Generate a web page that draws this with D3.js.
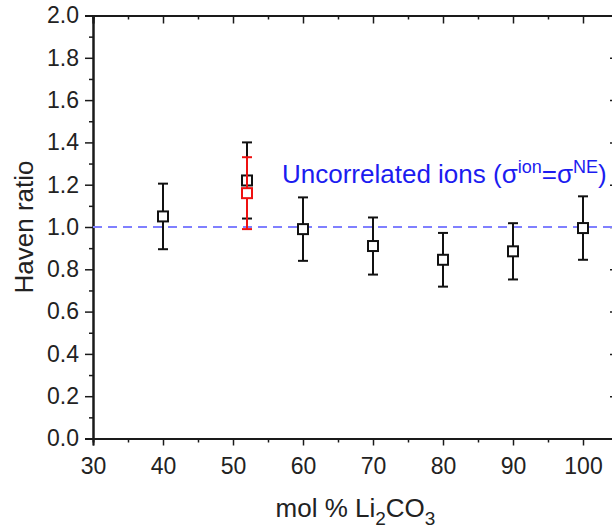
<!DOCTYPE html>
<html>
<head>
<meta charset="utf-8">
<script src="https://cdn.jsdelivr.net/npm/d3@7"></script>
<style>
  body { margin: 0; background: #fff; }
  svg { display: block; font-family: "Liberation Sans", Arial, sans-serif; }
</style>
</head>
<body>
<div id="chart"></div>
<script>
// data
var molLi2CO3 = [40, 52, 60, 70, 80, 90, 100];
var havenRatio = [1.05, 1.22, 0.99, 0.91, 0.845, 0.885, 0.995];
var havenErr = [0.155, 0.18, 0.15, 0.135, 0.127, 0.133, 0.15];

var redMol = [52];
var redHaven = [1.16];
var redErr = [0.17];

var xMajor = [30, 40, 50, 60, 70, 80, 90, 100];
var xMinor = [35, 45, 55, 65, 75, 85, 95, 105];
var yMajor = [0, 0.2, 0.4, 0.6, 0.8, 1.0, 1.2, 1.4, 1.6, 1.8, 2.0];
var yMinor = [0.1, 0.3, 0.5, 0.7, 0.9, 1.1, 1.3, 1.5, 1.7, 1.9];

var width = 612, height = 529;
var axis_color = "#1a1a1a";
var blue_line = "#8080ff";
var blue_text = "#1c1cf0";
var red = "#ee1111";

var svg = d3.select("#chart").append("svg")
  .attr("width", width)
  .attr("height", height);

var x = d3.scaleLinear().domain([30, 105]).range([93, 618]);
var y = d3.scaleLinear().domain([0, 2]).range([438.5, 15.5]);

function styleAxis(g) {
  g.select(".domain").attr("stroke", axis_color).attr("stroke-width", 2);
  g.selectAll(".tick line").attr("stroke", axis_color).attr("stroke-width", 1.5);
  g.selectAll(".tick text").attr("fill", "#222").style("font-size", "23px");
}

// left axis
svg.append("g").attr("transform", "translate(93,0)")
  .call(d3.axisLeft(y).tickValues(yMajor).tickSize(8).tickPadding(6).tickFormat(d3.format(".1f")))
  .call(styleAxis);
svg.append("g").attr("transform", "translate(93,0)")
  .call(d3.axisLeft(y).tickValues(yMinor).tickSize(4).tickFormat(""))
  .call(styleAxis);

// bottom axis
svg.append("g").attr("transform", "translate(0,438.5)")
  .call(d3.axisBottom(x).tickValues(xMajor).tickSize(7).tickPadding(12).tickFormat(d3.format("d")))
  .call(styleAxis);
svg.append("g").attr("transform", "translate(0,438.5)")
  .call(d3.axisBottom(x).tickValues(xMinor).tickSize(4).tickFormat(""))
  .call(styleAxis);

// top axis (ticks point inward)
svg.append("g").attr("transform", "translate(0,15.5)")
  .call(d3.axisTop(x).tickValues(xMajor).tickSize(-8).tickFormat(""))
  .call(styleAxis);
svg.append("g").attr("transform", "translate(0,15.5)")
  .call(d3.axisTop(x).tickValues(xMinor).tickSize(-4).tickFormat(""))
  .call(styleAxis);

// right axis (mostly off-canvas)
svg.append("g").attr("transform", "translate(618,0)")
  .call(d3.axisRight(y).tickValues(yMajor).tickSize(-8).tickFormat(""))
  .call(styleAxis);
svg.append("g").attr("transform", "translate(618,0)")
  .call(d3.axisRight(y).tickValues(yMinor).tickSize(-4).tickFormat(""))
  .call(styleAxis);

// reference line at 1.0
svg.append("line")
  .attr("x1", x(30)).attr("x2", x(105))
  .attr("y1", y(1)).attr("y2", y(1))
  .attr("stroke", blue_line)
  .attr("stroke-width", 2)
  .attr("stroke-dasharray", "9,6");

svg.append("text")
  .attr("x", 282).attr("y", 183)
  .attr("fill", blue_text)
  .style("font-size", "26px")
  .call(function(t) {
    t.append("tspan").text("Uncorrelated ions (\u03c3");
    t.append("tspan").attr("dy", -10).style("font-size", "18px").text("ion");
    t.append("tspan").attr("dy", 10).text("=\u03c3");
    t.append("tspan").attr("dy", -10).style("font-size", "18px").text("NE");
    t.append("tspan").attr("dy", 10).text(")");
  });

function drawSeries(xs, ys, es, col) {
  var g = svg.append("g");
  var pts = xs.map(function(d, i) { return {x: d, y: ys[i], e: es[i]}; });
  var cap = 5;
  var eb = g.selectAll(".eb").data(pts).enter().append("g")
    .attr("stroke", col).attr("stroke-width", 2).attr("fill", "none");
  eb.append("line")
    .attr("x1", function(d) { return x(d.x); }).attr("x2", function(d) { return x(d.x); })
    .attr("y1", function(d) { return y(d.y + d.e); }).attr("y2", function(d) { return y(d.y - d.e); });
  eb.append("line")
    .attr("x1", function(d) { return x(d.x) - cap; }).attr("x2", function(d) { return x(d.x) + cap; })
    .attr("y1", function(d) { return y(d.y + d.e); }).attr("y2", function(d) { return y(d.y + d.e); });
  eb.append("line")
    .attr("x1", function(d) { return x(d.x) - cap; }).attr("x2", function(d) { return x(d.x) + cap; })
    .attr("y1", function(d) { return y(d.y - d.e); }).attr("y2", function(d) { return y(d.y - d.e); });
  g.selectAll("rect").data(pts).enter().append("rect")
    .attr("x", function(d) { return x(d.x) - 5; })
    .attr("y", function(d) { return y(d.y) - 5; })
    .attr("width", 10).attr("height", 10)
    .attr("fill", "white")
    .attr("stroke", col)
    .attr("stroke-width", 2);
}

drawSeries(molLi2CO3, havenRatio, havenErr, "#111");
drawSeries(redMol, redHaven, redErr, red);

// axis titles
svg.append("text")
  .attr("x", (93 + 618) / 2).attr("y", 517)
  .attr("text-anchor", "middle")
  .attr("fill", "#222")
  .style("font-size", "26px")
  .call(function(t) {
    t.append("tspan").text("mol % Li");
    t.append("tspan").attr("dy", 8).style("font-size", "19px").text("2");
    t.append("tspan").attr("dy", -8).text("CO");
    t.append("tspan").attr("dy", 8).style("font-size", "19px").text("3");
  });

svg.append("text")
  .attr("transform", "translate(33," + (15.5 + 438.5) / 2 + ") rotate(-90)")
  .attr("text-anchor", "middle")
  .attr("fill", "#222")
  .style("font-size", "26px")
  .text("Haven ratio");
</script>
</body>
</html>
